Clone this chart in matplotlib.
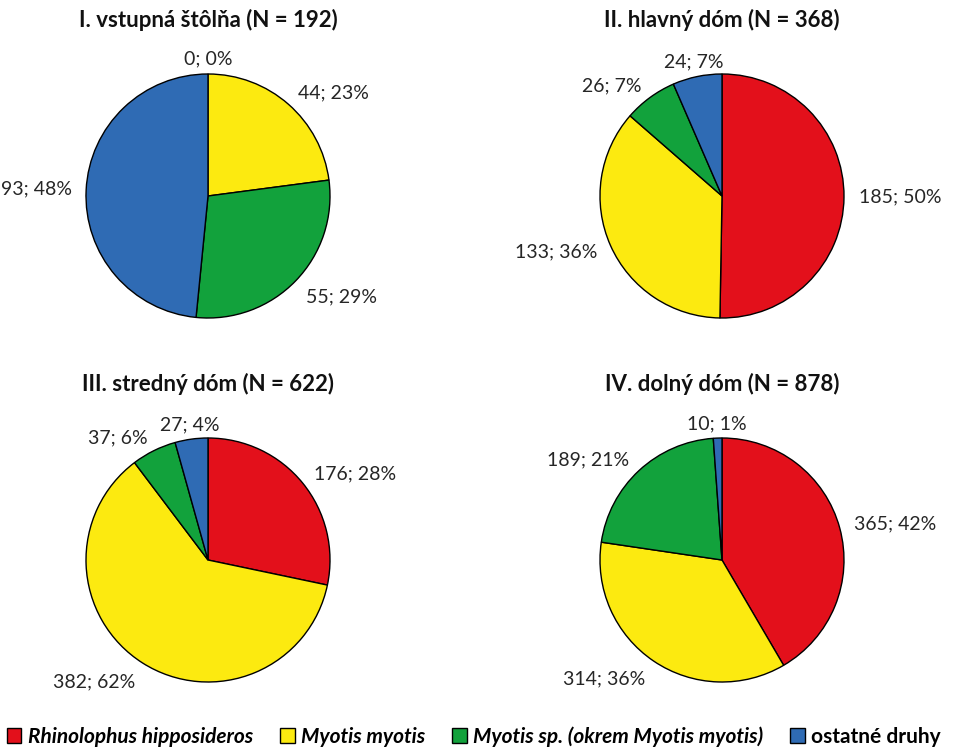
import numpy as np
import matplotlib
matplotlib.use("Agg")
import matplotlib.pyplot as plt
from matplotlib.patches import Patch

plt.rcParams['font.family'] = ['Lato', 'DejaVu Sans']

# data
titles = ["I. vstupná štôlňa (N = 192)", "II. hlavný dóm (N = 368)",
          "III. stredný dóm (N = 622)", "IV. dolný dóm (N = 878)"]
species = ["Rhinolophus hipposideros", "Myotis myotis",
           "Myotis sp. (okrem Myotis myotis)", "ostatné druhy"]
counts_I = [0, 44, 55, 93]
counts_II = [185, 133, 26, 24]
counts_III = [176, 382, 37, 27]
counts_IV = [365, 314, 189, 10]
# percentages as printed on the chart
pct_I = [0, 23, 29, 48]
pct_II = [50, 36, 7, 7]
pct_III = [28, 62, 6, 4]
pct_IV = [42, 36, 21, 1]
colors = ["#E3101B", "#FCEA10", "#12A23C", "#2F6BB4"]

all_counts = [counts_I, counts_II, counts_III, counts_IV]
all_pct = [pct_I, pct_II, pct_III, pct_IV]

W, H = 955, 750
fig = plt.figure(figsize=(W / 100, H / 100), dpi=100)

# pie centres in pixels, radius in pixels
centres = [(208, 196), (722, 196), (208, 560), (722, 560)]
R = 122
half = 1.7  # axis half-range in radius units

for title, counts, pcts, (cx, cy) in zip(titles, all_counts, all_pct, centres):
    side = 2 * half * R
    ax = fig.add_axes([(cx - half * R) / W, (H - cy - half * R) / H, side / W, side / H])
    wedges, _ = ax.pie(counts, colors=colors, startangle=90, counterclock=False,
                       radius=1, wedgeprops=dict(edgecolor='black', linewidth=1))
    ax.set_xlim(-half, half)
    ax.set_ylim(-half, half)
    ax.set_aspect('equal')
    ax.axis('off')

    # labels just outside the pie, anchored on the side facing the pie
    for w, c, p in zip(wedges, counts, pcts):
        mid = np.deg2rad((w.theta1 + w.theta2) / 2)
        x, y = 1.12 * np.cos(mid), 1.12 * np.sin(mid)
        if np.cos(mid) > 0.3:
            ha = 'left'
        elif np.cos(mid) < -0.3:
            ha = 'right'
        else:
            ha = 'center'
        if np.sin(mid) < -0.5:
            y -= 0.05
        ax.text(x, y, f"{c}; {p}%", ha=ha, va='center', fontsize=14, color='#262626')

    ax.text(0, 1.44, title, ha='center', va='center', fontsize=16,
            fontweight='bold', color='#111111')

handles = [Patch(facecolor=col, edgecolor='black', linewidth=1) for col in colors]
leg = fig.legend(handles, species, loc='center', bbox_to_anchor=(0.496, 0.018),
                 ncol=4, frameon=False, fontsize=15, handlelength=0.7,
                 handleheight=0.7, handletextpad=0.3, columnspacing=1.3)
for i, t in enumerate(leg.get_texts()):
    t.set_fontweight('bold')
    if i < 3:
        t.set_fontstyle('italic')

fig.savefig("out.png", dpi=100)
